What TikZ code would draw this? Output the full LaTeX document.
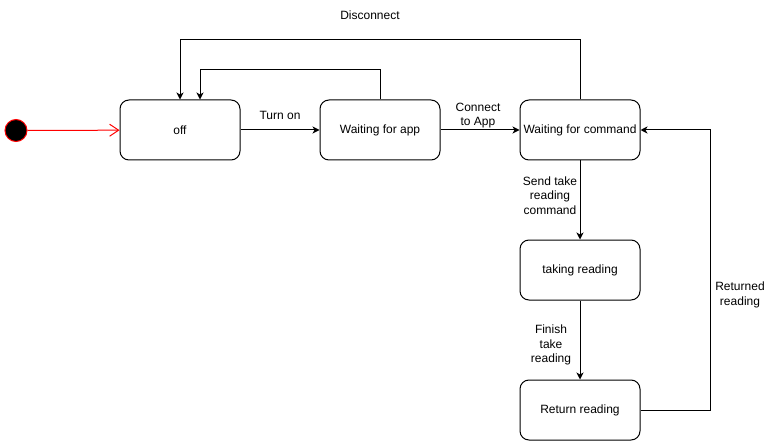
\documentclass[tikz,border=0pt]{standalone}
\usepackage{fontspec}
\setmainfont{Liberation Sans}
\usetikzlibrary{arrows.meta}
\begin{document}
\begin{tikzpicture}[x=1pt,y=-1pt,
  stbox/.style={draw=black, line width=1pt, rounded corners=9pt, fill=white,
    minimum width=120pt, minimum height=60pt, inner sep=0pt,
    font=\fontsize{12}{14}\selectfont},
  flow/.style={draw=black, line width=1pt,
    -{Stealth[length=7pt, width=7pt, inset=2pt]}},
  lbl/.style={align=center, inner sep=0pt,
    font=\fontsize{12}{14.3}\selectfont}]
  \useasboundingbox (0,0) rectangle (771,441);

  % initial pseudo-state
  \node (init) [circle, draw=red, fill=black, line width=1pt,
    minimum size=22pt, inner sep=0pt] at (16,130.5) {};

  % states
  \node (off)   [stbox] at (180,130) {off};
  \node (wapp)  [stbox] at (380,130) {Waiting for app};
  \node (wcmd)  [stbox] at (580,130) {Waiting for command};
  \node (take)  [stbox] at (580,270) {taking reading};
  \node (ret)   [stbox] at (580,410) {Return reading};

  % bend points
  \coordinate (d1) at (580,40);
  \coordinate (d2) at (180,40);
  \coordinate (b1) at (380,70);
  \coordinate (b2) at (200,70);
  \coordinate (r1) at (710,410);
  \coordinate (r2) at (710,130);

  % transitions
  \draw[red, line width=1pt, -{Straight Barb[length=9pt, width=12pt]}]
    (init) -- (off);
  \draw[flow] (off) -- (wapp);
  \draw[flow] (wapp) -- (wcmd);
  \draw[flow] (wcmd.north) -- (d1) -- (d2) -- (off.north -| d2);
  \draw[flow] (wapp.north) -- (b1) -- (b2) -- (off.north -| b2);
  \draw[flow] (wcmd) -- (take);
  \draw[flow] (take) -- (ret);
  \draw[flow] (ret.east) -- (r1) -- (r2) -- (wcmd.east);

  % transition labels
  \node (l1) [lbl] at (280,115) {Turn on};
  \node (l2) [lbl] at (478,115.5) {Connect\\to App};
  \node (l3) [lbl] at (370,15) {Disconnect};
  \node (l4) [lbl] at (550,195.5) {Send take\\reading\\command};
  \node (l5) [lbl] at (551,345) {Finish\\take\\reading};
  \node (l6) [lbl] at (740,295) {Returned\\reading};
\end{tikzpicture}
\end{document}
